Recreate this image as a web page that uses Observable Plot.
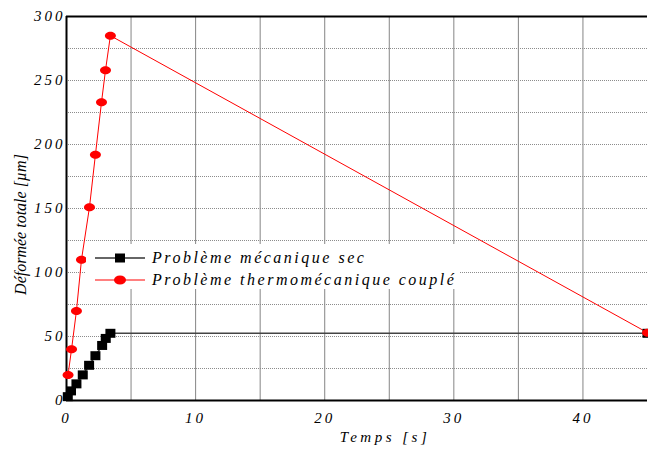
<!DOCTYPE html>
<html>
<head>
<meta charset="utf-8">
<script src="https://cdn.jsdelivr.net/npm/d3@7"></script>
<script src="https://cdn.jsdelivr.net/npm/@observablehq/plot@0.6"></script>
<style>
  html, body { margin: 0; padding: 0; background: #fff; }
  #wrap { position: relative; width: 648px; height: 450px; overflow: hidden; }
  #wrap svg text { font-family: "Liberation Serif", "Times New Roman", serif !important; font-style: italic !important; }
  #legend { position: absolute; left: 86px; top: 244px; width: 374px; height: 45px; background: #fff;
            font-family: "Liberation Serif", "Times New Roman", serif; font-style: italic; font-size: 16px; letter-spacing: 2.5px; color: #000; }
  .row { position: absolute; left: 0; height: 22px; width: 100%; }
  .row svg { position: absolute; left: 0; top: 0; }
  .row span { position: absolute; left: 66px; top: 1px; line-height: 20px; white-space: nowrap; }
  g[aria-label="x-axis tick label"] text, g[aria-label="y-axis tick label"] text { font-size: 15px; letter-spacing: 3px; }
  g.xlab text { font-size: 15px; letter-spacing: 3.5px; }
  g.ylab text { font-size: 16px; letter-spacing: 0px; }
</style>
</head>
<body>
<div id="wrap"></div>
<script>
// Data
const seriesNames = ["Problème mécanique sec", "Problème thermomécanique couplé"];
const blackTime = [0.1, 0.35, 0.77, 1.26, 1.75, 2.24, 2.76, 3.04, 3.40, 45];
const blackDef  = [3, 7.5, 13, 20, 27.5, 35, 43, 48.5, 52.5, 52.5];
const redTime   = [0.12, 0.39, 0.77, 1.16, 1.78, 2.24, 2.71, 3.02, 3.40, 45];
const redDef    = [20, 40, 70, 110, 151, 192, 233, 258, 285, 53];
const xTicks = [0, 10, 20, 30, 40];
const yTicks = [0, 50, 100, 150, 200, 250, 300];
const xGrid = [5, 10, 15, 20, 25, 30, 35, 40];
const yGrid = [25, 50, 75, 100, 125, 150, 175, 200, 225, 250, 275];
const xLabel = "Temps [s]";
const yLabel = "Déformée totale [µm]";

const black = blackTime.map((t, i) => ({t, v: blackDef[i]}));
const red = redTime.map((t, i) => ({t, v: redDef[i]}));

const ellipse = {draw(ctx) {
  const rx = 5.5, ry = 4, k = 0.5523;
  ctx.moveTo(rx, 0);
  ctx.bezierCurveTo(rx, ry * k, rx * k, ry, 0, ry);
  ctx.bezierCurveTo(-rx * k, ry, -rx, ry * k, -rx, 0);
  ctx.bezierCurveTo(-rx, -ry * k, -rx * k, -ry, 0, -ry);
  ctx.bezierCurveTo(rx * k, -ry, rx, -ry * k, rx, 0);
  ctx.closePath();
}};
const rectSym = {draw(ctx) { ctx.rect(-5, -4.5, 10, 9); }};

const chart = Plot.plot({
  width: 648, height: 450,
  marginLeft: 66, marginRight: 1, marginTop: 16, marginBottom: 50,
  x: {domain: [0, 45]},
  y: {domain: [0, 300]},
  style: {background: "#fff", overflow: "hidden"},
  marks: [
    Plot.gridX(xGrid, {stroke: "#858585", strokeOpacity: 1, strokeWidth: 1}),
    Plot.gridY(yGrid, {stroke: "#8c8c8c", strokeOpacity: 1, strokeWidth: 1, strokeDasharray: "1,1"}),
    Plot.ruleX([0], {stroke: "#000", strokeWidth: 2}),
    Plot.ruleY([0, 300], {stroke: "#000", strokeWidth: 2}),
    Plot.line(black, {x: "t", y: "v", stroke: "#444", strokeWidth: 1.6}),
    Plot.line(red, {x: "t", y: "v", stroke: "#ff0000", strokeWidth: 1}),
    Plot.dot(black, {x: "t", y: "v", symbol: rectSym, fill: "#000", stroke: "none", r: 5}),
    Plot.dot(red, {x: "t", y: "v", symbol: ellipse, fill: "#ff0000", stroke: "none", r: 5}),
    Plot.axisX(xTicks, {tickSize: 0, tickPadding: 12, label: null}),
    Plot.axisY(yTicks, {tickSize: 0, tickPadding: 1, label: null}),
    Plot.text([xLabel], {frameAnchor: "bottom", lineAnchor: "middle", dx: 28, dy: 37, className: "xlab"}),
    Plot.text([yLabel], {frameAnchor: "left", textAnchor: "middle", lineAnchor: "middle", dx: -46, dy: 16, rotate: -90, className: "ylab"})
  ]
});
document.getElementById("wrap").appendChild(chart);

// legend
const legend = document.createElement("div");
legend.id = "legend";
const entries = [
  {name: seriesNames[0], line: "#666", fill: "#000", shape: "rect"},
  {name: seriesNames[1], line: "#ff8080", fill: "#ff0000", shape: "ellipse"}
];
entries.forEach((e, i) => {
  const row = document.createElement("div");
  row.className = "row";
  row.style.top = (i * 22 + 3) + "px";
  const shape = e.shape === "rect"
    ? `<rect x="29" y="6.5" width="10" height="9" fill="${e.fill}"/>`
    : `<ellipse cx="34" cy="11" rx="6" ry="4.5" fill="${e.fill}"/>`;
  row.innerHTML = `<svg width="62" height="22"><line x1="9" x2="59" y1="11" y2="11" stroke="${e.line}" stroke-width="2"/>${shape}</svg><span>${e.name}</span>`;
  legend.appendChild(row);
});
document.getElementById("wrap").appendChild(legend);
</script>
</body>
</html>
